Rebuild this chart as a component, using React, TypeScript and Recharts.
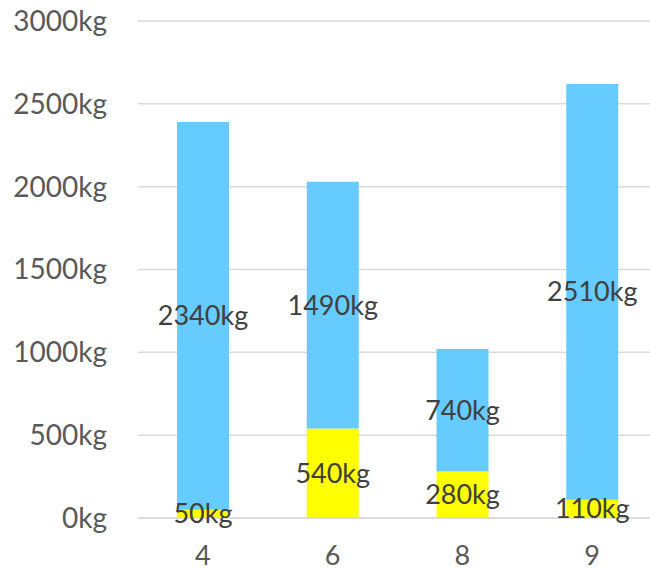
import { BarChart, Bar, XAxis, YAxis, CartesianGrid, LabelList } from 'recharts'

const categories = ['4', '6', '8', '9']
const lowerKg = [50, 540, 280, 110]
const upperKg = [2340, 1490, 740, 2510]
const yTicks = [0, 500, 1000, 1500, 2000, 2500, 3000]

const data = categories.map((name, i) => ({
  name,
  lower: lowerKg[i],
  upper: upperKg[i],
}))

const FONT = 'Lato, "Open Sans", sans-serif'
const kg = (v: unknown) => `${v}kg`

export default function App() {
  return (
    <div
      style={{
        position: 'fixed', left: 0, top: 0, width: 650, height: 571,
        overflow: 'hidden', background: '#fff',
      }}
    >
      <BarChart
        width={660}
        height={571}
        data={data}
        margin={{ top: 21, right: 3, bottom: 0, left: 0 }}
        barSize={52}
        style={{ fontFamily: FONT }}
      >
        <CartesianGrid vertical={false} stroke="#d9d9d9" strokeWidth={1.5} />
        <XAxis
          dataKey="name"
          height={53}
          tickSize={0}
          tickMargin={28}
          axisLine={{ stroke: '#d9d9d9', strokeWidth: 1.5 }}
          tick={{ fontSize: 27, fill: '#595959' }}
        />
        <YAxis
          width={138}
          domain={[0, 3000]}
          ticks={yTicks}
          tickSize={0}
          tickMargin={31}
          axisLine={false}
          tickFormatter={kg}
          tick={{ fontSize: 28, fill: '#595959' }}
        />
        <Bar dataKey="lower" stackId="kg" fill="#ffff00" isAnimationActive={false}>
          <LabelList dataKey="lower" position="center" formatter={kg} fill="#404040" fontSize={27} />
        </Bar>
        <Bar dataKey="upper" stackId="kg" fill="#66ccff" isAnimationActive={false}>
          <LabelList dataKey="upper" position="center" formatter={kg} fill="#404040" fontSize={27} />
        </Bar>
      </BarChart>
    </div>
  )
}
